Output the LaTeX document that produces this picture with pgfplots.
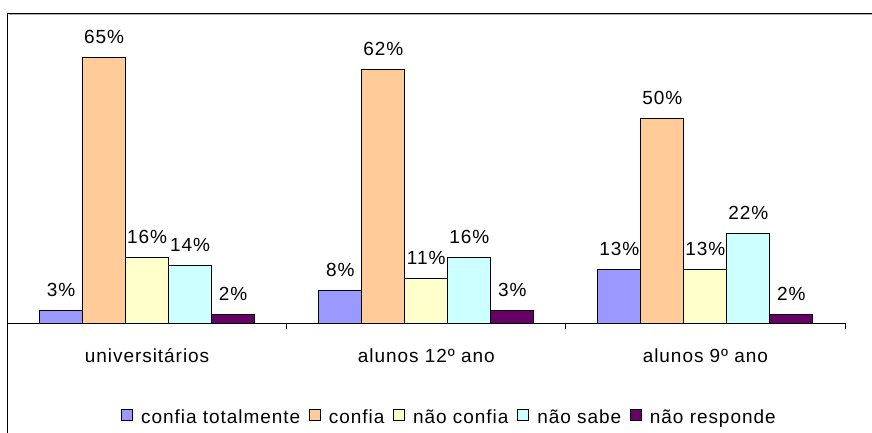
\documentclass[border=0pt]{standalone}
\usepackage{pgfplots}
\pgfplotsset{compat=1.18}
\usepackage{fontspec}
\setmainfont{Liberation Sans}[LetterSpace=5]
\definecolor{cA}{HTML}{9999FF}
\definecolor{cB}{HTML}{FFCC99}
\definecolor{cC}{HTML}{FFFFCC}
\definecolor{cD}{HTML}{CCFFFF}
\definecolor{cE}{HTML}{660066}
\begin{document}
\fontsize{19pt}{22pt}\selectfont
\begin{tikzpicture}
\draw[line width=1.2pt] (7.5pt,-10pt) -- (7.5pt,418.5pt) -- (890pt,418.5pt);
\draw[gray!60,line width=0.8pt] (8.5pt,417.3pt) -- (890pt,417.3pt);
\begin{axis}[
  at={(7.5pt,109pt)}, anchor=south west,
  scale only axis, width=837.5pt, height=306.75pt,
  xmin=0.5, xmax=3.5, ymin=0, ymax=75,
  axis x line*=bottom, axis y line=none,
  axis line style={line width=1pt,-},
  ybar=0pt, bar width=43pt,
  /pgf/number format/assume math mode=true,
  xtick={1,2,3},
  xticklabels={universitários, alunos 12º ano, alunos 9º ano},
  major tick length=0pt,
  minor xtick={0.5,1.5,2.5,3.5},
  minor tick length=6pt,
  tick align=outside,
  tick style={black,line width=0.8pt},
  xticklabel style={anchor=base, inner sep=0pt, yshift=-39pt, font=\fontsize{19pt}{22pt}\selectfont},
  nodes near coords={\pgfmathprintnumber[assume math mode=true]{\pgfplotspointmeta}\%},
  every node near coord/.append style={anchor=base, inner sep=0pt, yshift=14pt, font=\fontsize{19pt}{22pt}\selectfont, black},
  legend columns=-1,
  legend style={at={(0.5266,-0.309)}, anchor=center, draw=none, fill=none,
    font=\fontsize{19pt}{22pt}\selectfont,
    nodes={font=\fontsize{19pt}{22pt}\selectfont, inner sep=0pt},
    /tikz/every even column/.append style={column sep=9pt},
    /tikz/every odd column/.append style={column sep=8pt}},
  legend image code/.code={\draw[#1,draw=black,line width=0.8pt] (0pt,-3pt) rectangle (11pt,8pt);},
  every axis plot/.append style={draw=black, line width=0.9pt},
]
\addplot[fill=cA] coordinates {(1,3) (2,8) (3,13)};
\addplot[fill=cB] coordinates {(1,65) (2,62) (3,50)};
\addplot[fill=cC] coordinates {(1,16) (2,11) (3,13)};
\addplot[fill=cD] coordinates {(1,14) (2,16) (3,22)};
\addplot[fill=cE] coordinates {(1,2) (2,3) (3,2)};
\legend{confia totalmente, confia, não confia, não sabe, não responde}
\end{axis}
\pgfresetboundingbox
\useasboundingbox (0pt,0pt) rectangle (872pt,432pt);
\end{tikzpicture}
\end{document}
